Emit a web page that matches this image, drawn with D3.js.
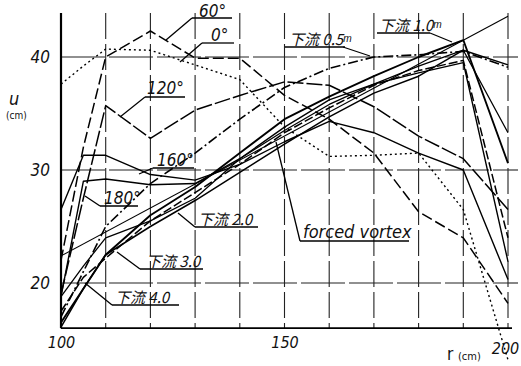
<!DOCTYPE html>
<html><head><meta charset="utf-8">
<script src="https://cdn.jsdelivr.net/npm/d3@7"></script>
<style>
body{margin:0;background:#fff}
text{font-family:"Liberation Sans Narrow","DejaVu Sans Condensed","Noto Sans CJK JP",sans-serif;fill:#111}
.jp{font-family:"Noto Sans CJK JP","Liberation Sans Narrow",sans-serif}
</style></head>
<body><svg id="c" width="521" height="366"></svg>
<script>
// radial positions (cm)
const radii = [100,105,110,120,130,140,150,160,170,180,190,200];
// velocity u (cm/s) per series
const u0   = [37.6,39.2,40.7,40.6,39.3,38.0,33.8,31.2,31.3,31.5,26.5,13.2];
const u60  = [22.0,32.0,40.0,42.3,39.9,39.9,36.6,34.5,31.5,26.3,24.0,18.2];
const u120 = [19.0,27.5,35.7,32.8,35.3,36.6,37.8,37.5,35.6,33.0,31.0,26.5];
const u160 = [26.5,31.3,31.3,29.6,29.1,30.5,32.5,34.3,33.3,31.5,30.0,20.3];
const u180 = [18.8,29.0,29.2,28.7,28.8,31.0,33.8,36.2,37.6,38.6,39.5,21.9];
const uD05 = [17.0,21.0,25.0,28.8,31.5,34.5,37.3,39.0,40.0,40.2,40.5,39.1];
const uD10 = [16.5,19.5,22.5,26.0,28.5,31.5,34.5,36.5,38.3,40.0,41.5,30.6];
const uD20 = [18.8,21.5,24.0,25.5,27.5,31.0,33.5,35.8,37.6,39.2,40.6,33.3];
const uD30 = [17.5,20.5,22.2,25.5,28.0,30.5,33.3,35.5,37.5,38.8,39.7,24.0];
const uD40 = [16.1,19.5,22.5,25.0,27.3,29.8,32.3,34.7,36.8,38.3,40.6,39.3];
const forcedR = [100,200];
const forcedU = [22.4,43.6];
const xTicks = [100,150,200];
const yTicks = [20,30,40];
const gridX = [110,120,130,140,150,160,170,180,190,200];
const gridY = [20,30,40];

const series = [
  {v:u0,   dash:"2,3",     w:1.4},
  {v:u60,  dash:"11,4",    w:1.5},
  {v:u120, dash:"16,3",    w:1.5},
  {v:u160, dash:null,      w:1.4},
  {v:u180, dash:null,      w:1.4},
  {v:uD05, dash:"10,3,2,3",w:1.6},
  {v:uD10, dash:null,      w:1.9},
  {v:uD20, dash:null,      w:1.3},
  {v:uD30, dash:"9,3",     w:1.5},
  {v:uD40, dash:null,      w:1.5}
];

const svg = d3.select("#c");
const x = d3.scaleLinear().domain([100,200]).range([61,508]);
const y = d3.scaleLinear().domain([20,40]).range([283,57]);
const yTop = 43.9, yBot = 16;

// grid
svg.append("g").selectAll("line").data(gridX).join("line")
  .attr("x1",d=>x(d)).attr("x2",d=>x(d)).attr("y1",y(yTop)).attr("y2",y(yBot))
  .attr("stroke","#222").attr("stroke-width",1.1).attr("stroke-dasharray","26,5");
svg.append("g").selectAll("line").data(gridY).join("line")
  .attr("x1",x(100)).attr("x2",x(200)+10).attr("y1",d=>y(d)).attr("y2",d=>y(d))
  .attr("stroke","#222").attr("stroke-width",1.1).attr("stroke-dasharray","44,4");
// frame axes
svg.append("line").attr("x1",x(100)).attr("x2",x(100)).attr("y1",y(yTop)).attr("y2",y(yBot))
  .attr("stroke","#000").attr("stroke-width",2.2);
svg.append("line").attr("x1",x(100)).attr("x2",x(200)+4).attr("y1",y(yBot)).attr("y2",y(yBot))
  .attr("stroke","#000").attr("stroke-width",1.8);

// axes labels via d3 axes
const ax = svg.append("g").attr("transform",`translate(0,${y(yBot)})`)
  .call(d3.axisBottom(x).tickValues(xTicks).tickSize(0).tickPadding(8).tickFormat(d3.format("d")));
ax.select(".domain").remove();
ax.selectAll("text").attr("font-size",16).attr("font-family",null).style("font-style","italic");
ax.selectAll(".tick").filter(d=>d===200).select("text").attr("dy","1.1em").attr("dx","-3");
const ay = svg.append("g").attr("transform",`translate(${x(100)},0)`)
  .call(d3.axisLeft(y).tickValues(yTicks).tickSize(0).tickPadding(11));
ay.select(".domain").remove();
ay.selectAll("text").attr("font-size",17).attr("font-family",null).style("font-style","italic");

// data lines
const line = d3.line().x(d=>x(d[0])).y(d=>y(d[1]));
series.forEach(s=>{
  const pts = radii.map((r,i)=>[r,s.v[i]]).filter(p=>p[1]!=null);
  svg.append("path").attr("d",line(pts)).attr("fill","none").attr("stroke","#000")
    .attr("stroke-width",s.w).attr("stroke-linejoin","round")
    .attr("stroke-dasharray",s.dash);
});
svg.append("path").attr("d",line(forcedR.map((r,i)=>[r,forcedU[i]])))
  .attr("fill","none").attr("stroke","#000").attr("stroke-width",1.1);

// annotation labels with underline and leader
const labels = [
  {t:"60°",  x:199, y:17,  ul:[192,232,18],  lead:[192,18,166,40], fs:17, jp:false},
  {t:"0°",   x:211, y:41,  ul:[202,234,43],  lead:[202,43,180,62], fs:17, jp:false},
  {t:"120°", x:147, y:94,  ul:[145,185,97],  lead:[145,97,120,117], fs:17, jp:false},
  {t:"160°", x:157, y:166, ul:[153,194,168], lead:[153,168,139,174], fs:17, jp:false},
  {t:"180°", x:104, y:204, ul:[100,138,206], lead:[100,206,85,196], fs:17, jp:false},
  {t:"下流 2.0", x:198, y:225, ul:[195,258,227], lead:[195,227,178,213], fs:15, jp:true},
  {t:"下流 3.0", x:146, y:267, ul:[140,203,269], lead:[140,269,117,252], fs:15, jp:true},
  {t:"下流 4.0", x:115, y:303, ul:[112,179,305], lead:[112,305,85,283], fs:15, jp:true},
  {t:"下流 0.5ᵐ", x:289, y:45, ul:[285,345,47], lead:[343,47,370,56], fs:15, jp:true},
  {t:"下流 1.0ᵐ", x:379, y:31, ul:[377,430,33], lead:[430,33,452,42], fs:15, jp:true},
  {t:"forced vortex", x:303, y:238, ul:[300,409,241], lead:[300,241,276,142], fs:18, jp:false}
];
labels.forEach(l=>{
  svg.append("text").attr("x",l.x).attr("y",l.y).attr("font-size",l.fs)
    .attr("class",l.jp?"jp":null).style("font-style","italic").text(l.t);
  svg.append("line").attr("x1",l.ul[0]).attr("x2",l.ul[1]).attr("y1",l.ul[2]).attr("y2",l.ul[2])
    .attr("stroke","#000").attr("stroke-width",1.3);
  svg.append("line").attr("x1",l.lead[0]).attr("y1",l.lead[1]).attr("x2",l.lead[2]).attr("y2",l.lead[3])
    .attr("stroke","#000").attr("stroke-width",1.3);
});

// axis titles
svg.append("text").attr("x",9).attr("y",105).attr("font-size",18).style("font-style","italic").text("u");
svg.append("text").attr("x",6).attr("y",119).attr("font-size",10).text("(cm)");
svg.append("text").attr("x",447).attr("y",360).attr("font-size",17).text("r");
svg.append("text").attr("x",458).attr("y",360).attr("font-size",11).text("(cm)");
</script></body></html>
